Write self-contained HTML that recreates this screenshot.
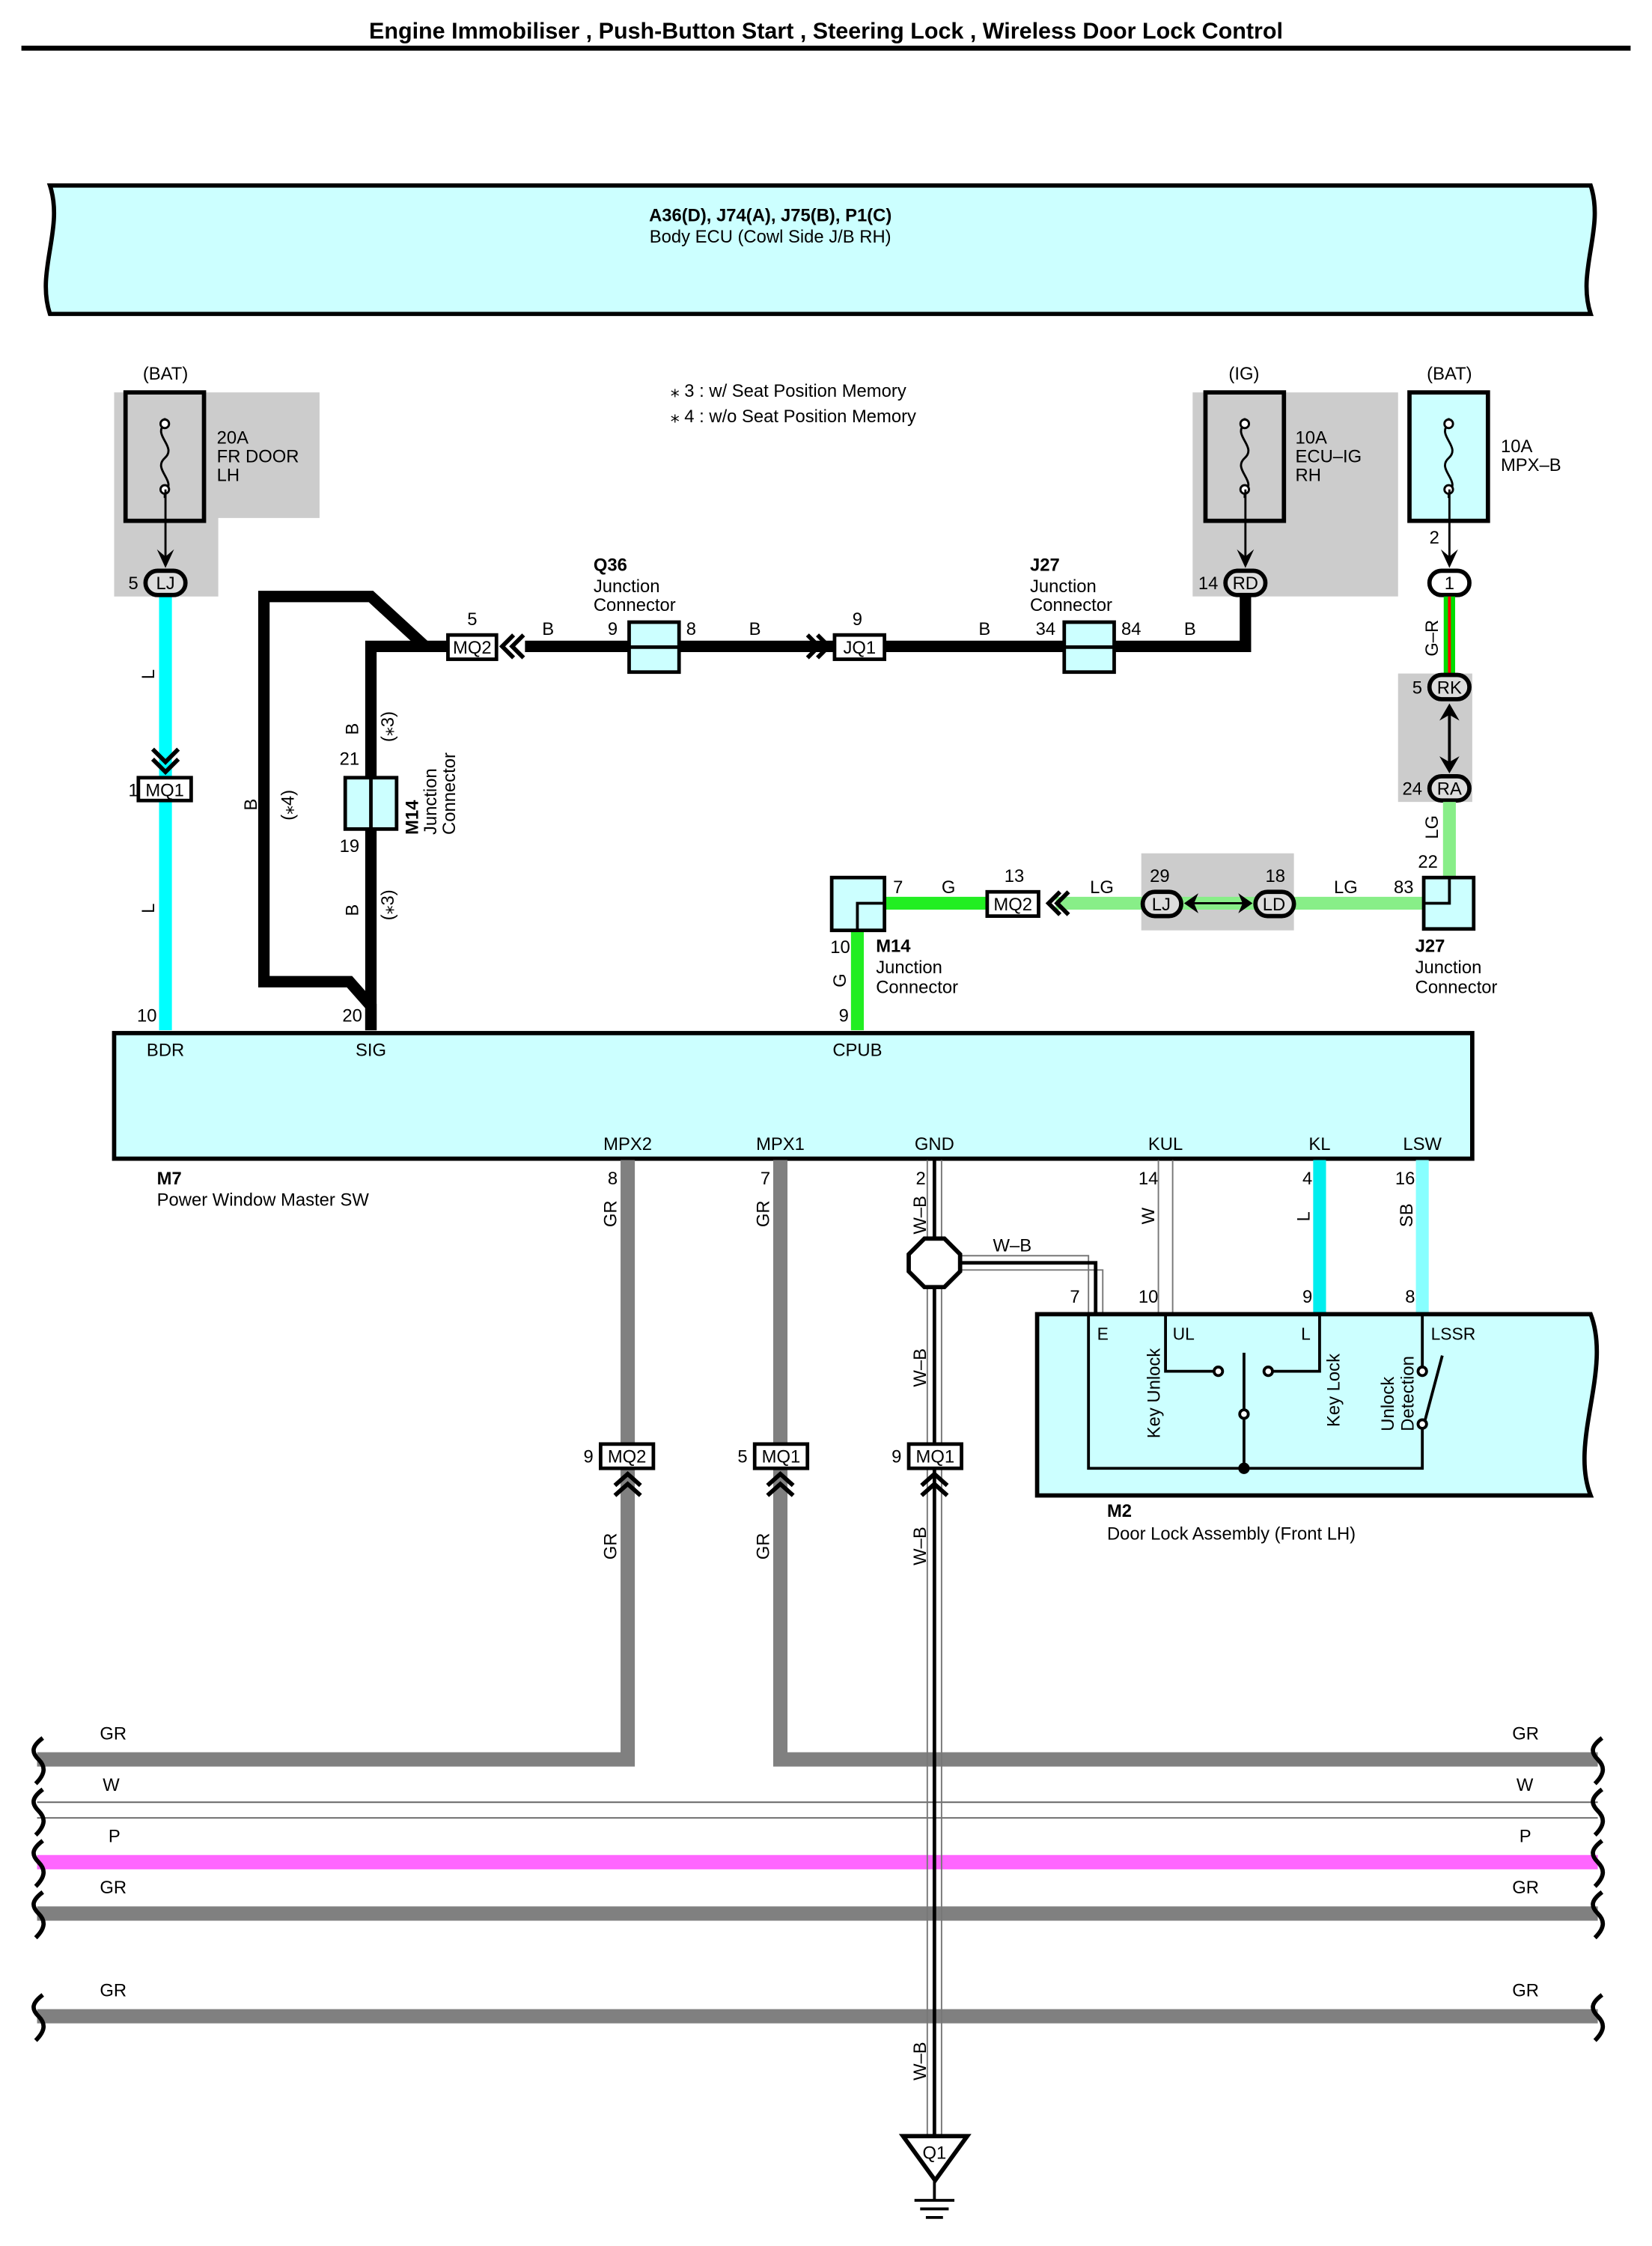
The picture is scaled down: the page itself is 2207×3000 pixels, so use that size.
<!DOCTYPE html>
<html><head><meta charset="utf-8"><style>
html,body{margin:0;padding:0;background:#fff}
svg{display:block}
text{font-family:"Liberation Sans Narrow","Liberation Sans",sans-serif;font-size:12.5px;fill:#000}
.b{font-weight:bold}
</style></head><body>
<svg width="2207" height="3000" viewBox="0 0 1158 1574" preserveAspectRatio="none" xmlns="http://www.w3.org/2000/svg">
<defs>
<g id="fuse"><rect x="0" y="0" width="55" height="90" fill="none" stroke="#000" stroke-width="3"/>
<path d="M27.5 18 v4 c-9 8 9 16 0 24 c-9 8 9 16 0 24 v4" fill="none" stroke="#000" stroke-width="1.5"/>
<circle cx="27.5" cy="22" r="3" fill="#fff" stroke="#000" stroke-width="1.5"/><circle cx="27.5" cy="68" r="3" fill="#fff" stroke="#000" stroke-width="1.5"/></g>
</defs>
<text x="579" y="27" text-anchor="middle" class="b" style="font-size:16px">Engine Immobiliser , Push-Button Start , Steering Lock , Wireless Door Lock Control</text>
<rect x="15" y="32" width="1128" height="3.5" fill="#000"/>

<!-- Body ECU -->
<path d="M35 130 H1115 C1125 160 1105 190 1115 220 H35 C25 190 45 160 35 130 Z" fill="#ccffff" stroke="#000" stroke-width="3"/>
<text x="540" y="155" text-anchor="middle" class="b">A36(D), J74(A), J75(B), P1(C)</text>
<text x="540" y="170" text-anchor="middle">Body ECU (Cowl Side J/B RH)</text>

<!-- gray backgrounds -->
<path d="M80 275 H224 V363 H153 V418 H80 Z" fill="#cccccc"/>
<rect x="836" y="275" width="144" height="143" fill="#cccccc"/>
<rect x="980" y="472" width="52" height="90" fill="#cccccc"/>
<rect x="800" y="598" width="107" height="54" fill="#cccccc"/>

<!-- fuses -->
<text x="116" y="266" text-anchor="middle">(BAT)</text>
<use href="#fuse" x="88" y="275"/>
<text x="152" y="311">20A</text><text x="152" y="324">FR DOOR</text><text x="152" y="337">LH</text>
<text x="872" y="266" text-anchor="middle">(IG)</text>
<use href="#fuse" x="845" y="275"/>
<text x="908" y="311">10A</text><text x="908" y="324">ECU–IG</text><text x="908" y="337">RH</text>
<text x="1016" y="266" text-anchor="middle">(BAT)</text>
<rect x="988" y="275" width="55" height="90" fill="#ccffff"/>
<use href="#fuse" x="988" y="275"/>
<text x="1052" y="317">10A</text><text x="1052" y="330">MPX–B</text>
<text x="470" y="278">⁎ 3 : w/ Seat Position Memory</text>
<text x="470" y="296">⁎ 4 : w/o Seat Position Memory</text>

<!-- fuse arrows -->
<g stroke="#000" stroke-width="1.5"><line x1="116" y1="343" x2="116" y2="395"/><line x1="873" y1="343" x2="873" y2="395"/><line x1="1016" y1="343" x2="1016" y2="395"/></g>
<g fill="#000"><path d="M110 385 L116 398 L122 385 L116 390Z"/><path d="M867 385 L873 398 L879 385 L873 390Z"/><path d="M1010 385 L1016 398 L1022 385 L1016 390Z"/></g>

<!-- L cyan wire -->
<line x1="116" y1="418" x2="116" y2="722" stroke="#00ffff" stroke-width="9"/>
<path d="M107 525 L116 534 L125 525 M107 532 L116 541 L125 532" fill="none" stroke="#000" stroke-width="3"/>
<rect x="97" y="545" width="37" height="16" fill="#fff" stroke="#000" stroke-width="2.5"/><text x="115.5" y="558" text-anchor="middle">MQ1</text>
<text x="90" y="558">1</text>
<text transform="translate(108,476) rotate(-90)">L</text>
<text transform="translate(108,640) rotate(-90)">L</text>

<!-- black B wiring -->
<g fill="none" stroke="#000" stroke-width="8" stroke-linejoin="miter">
<path d="M298 453 L260 418 H185 V688 H245 L260 705 V722"/>
<path d="M260 722 V453 H314"/>
<path d="M368 453 H873 V418"/>
</g>
<rect x="242" y="545" width="36" height="36" fill="#ccffff" stroke="#000" stroke-width="2.5"/><line x1="260" y1="545" x2="260" y2="581" stroke="#000" stroke-width="2.5"/>
<text x="238" y="536">21</text><text x="238" y="597">19</text>
<text transform="translate(293,585) rotate(-90)" class="b">M14</text>
<text transform="translate(306,585) rotate(-90)">Junction</text>
<text transform="translate(319,585) rotate(-90)">Connector</text>
<text transform="translate(251,515) rotate(-90)">B</text><text transform="translate(276,520) rotate(-90)">(⁎3)</text>
<text transform="translate(251,642) rotate(-90)">B</text><text transform="translate(276,645) rotate(-90)">(⁎3)</text>
<text transform="translate(180,568) rotate(-90)">B</text><text transform="translate(206,575) rotate(-90)">(⁎4)</text>

<rect x="314" y="445" width="34" height="17" fill="#fff" stroke="#000" stroke-width="2.5"/><text x="331" y="458" text-anchor="middle">MQ2</text>
<text x="331" y="438" text-anchor="middle">5</text>
<path d="M360 445 L352 453 L360 461 M367 445 L359 453 L367 461" fill="none" stroke="#000" stroke-width="3"/>
<text x="380" y="445">B</text>
<rect x="441" y="436" width="35" height="35" fill="#ccffff" stroke="#000" stroke-width="2.5"/><line x1="441" y1="453.5" x2="476" y2="453.5" stroke="#000" stroke-width="2.5"/>
<text x="426" y="445">9</text><text x="481" y="445">8</text>
<text x="416" y="400" class="b">Q36</text><text x="416" y="415">Junction</text><text x="416" y="428">Connector</text>
<text x="525" y="445">B</text>
<path d="M566 445 L574 453 L566 461 M573 445 L581 453 L573 461" fill="none" stroke="#000" stroke-width="3"/>
<rect x="585" y="445" width="35" height="17" fill="#fff" stroke="#000" stroke-width="2.5"/><text x="602.5" y="458" text-anchor="middle">JQ1</text>
<text x="601" y="438" text-anchor="middle">9</text>
<text x="686" y="445">B</text>
<rect x="746" y="436" width="35" height="35" fill="#ccffff" stroke="#000" stroke-width="2.5"/><line x1="746" y1="453.5" x2="781" y2="453.5" stroke="#000" stroke-width="2.5"/>
<text x="726" y="445">34</text><text x="786" y="445">84</text>
<text x="722" y="400" class="b">J27</text><text x="722" y="415">Junction</text><text x="722" y="428">Connector</text>
<text x="830" y="445">B</text>

<!-- connectors LJ RD 1 -->
<g stroke="#000" stroke-width="3" fill="#ddd">
<rect x="102" y="400" width="28" height="17" rx="8.5"/><rect x="859" y="400" width="28" height="17" rx="8.5"/>
<rect x="1002" y="400" width="28" height="17" rx="8.5" fill="#fff"/>
</g>
<text x="116" y="413" text-anchor="middle">LJ</text><text x="873" y="413" text-anchor="middle">RD</text><text x="1016" y="413" text-anchor="middle">1</text>
<text x="90" y="413">5</text><text x="840" y="413">14</text><text x="1002" y="381">2</text>

<!-- G-R -->
<line x1="1016" y1="418" x2="1016" y2="472" stroke="#00dd00" stroke-width="8"/>
<line x1="1016" y1="418" x2="1016" y2="472" stroke="#ff0000" stroke-width="2"/>
<text transform="translate(1008,460) rotate(-90)">G–R</text>
<rect x="1002" y="473" width="28" height="17" rx="8.5" fill="#ddd" stroke="#000" stroke-width="3"/><text x="1016" y="486" text-anchor="middle">RK</text>
<text x="990" y="486">5</text>
<line x1="1016" y1="496" x2="1016" y2="538" stroke="#000" stroke-width="2"/>
<path d="M1009 505 L1016 493 L1023 505 L1016 501Z M1009 530 L1016 542 L1023 530 L1016 534Z" fill="#000"/>
<rect x="1002" y="544" width="28" height="17" rx="8.5" fill="#ddd" stroke="#000" stroke-width="3"/><text x="1016" y="557" text-anchor="middle">RA</text>
<text x="983" y="557">24</text>

<!-- LG/G wires -->
<line x1="1016" y1="562" x2="1016" y2="616" stroke="#88ee88" stroke-width="9"/>
<text transform="translate(1008,588) rotate(-90)">LG</text><text x="994" y="608">22</text>
<line x1="740" y1="633" x2="998" y2="633" stroke="#88ee88" stroke-width="9"/>
<line x1="620" y1="633" x2="692" y2="633" stroke="#22ee22" stroke-width="9"/>
<line x1="601" y1="652" x2="601" y2="722" stroke="#22ee22" stroke-width="9"/>
<rect x="998" y="615" width="35" height="36" fill="#ccffff" stroke="#000" stroke-width="2.5"/><path d="M998 633 H1016 V615" fill="none" stroke="#000" stroke-width="2"/>
<text x="977" y="626">83</text>
<text x="992" y="667" class="b">J27</text><text x="992" y="682">Junction</text><text x="992" y="696">Connector</text>
<text x="935" y="626">LG</text>
<rect x="801" y="625" width="27" height="17" rx="8.5" fill="#ddd" stroke="#000" stroke-width="3"/><text x="814" y="638" text-anchor="middle">LJ</text>
<rect x="880" y="625" width="27" height="17" rx="8.5" fill="#ddd" stroke="#000" stroke-width="3"/><text x="893" y="638" text-anchor="middle">LD</text>
<text x="806" y="618">29</text><text x="887" y="618">18</text>
<line x1="832" y1="633" x2="876" y2="633" stroke="#000" stroke-width="1.5"/>
<path d="M830 633 L840 626 L837 633 L840 640Z M878 633 L868 626 L871 633 L868 640Z" fill="#000"/>
<text x="764" y="626">LG</text>
<path d="M743 625 L735 633 L743 641 M749 625 L741 633 L749 641" fill="none" stroke="#000" stroke-width="3"/>
<rect x="692" y="625" width="36" height="17" fill="#fff" stroke="#000" stroke-width="2.5"/><text x="710" y="638" text-anchor="middle">MQ2</text>
<text x="704" y="618">13</text>
<text x="660" y="626">G</text>
<rect x="583" y="615" width="37" height="37" fill="#ccffff" stroke="#000" stroke-width="2.5"/><path d="M601 652 V633 H620" fill="none" stroke="#000" stroke-width="2"/>
<text x="626" y="626">7</text><text x="582" y="668">10</text>
<text x="614" y="667" class="b">M14</text><text x="614" y="682">Junction</text><text x="614" y="696">Connector</text>
<text transform="translate(593,692) rotate(-90)">G</text>

<!-- Power window master SW -->
<rect x="80" y="724" width="952" height="88" fill="#ccffff" stroke="#000" stroke-width="3"/>
<text x="96" y="716">10</text><text x="240" y="716">20</text><text x="588" y="716">9</text>
<text x="116" y="740" text-anchor="middle">BDR</text><text x="260" y="740" text-anchor="middle">SIG</text><text x="601" y="740" text-anchor="middle">CPUB</text>
<text x="440" y="806" text-anchor="middle">MPX2</text><text x="547" y="806" text-anchor="middle">MPX1</text><text x="655" y="806" text-anchor="middle">GND</text>
<text x="817" y="806" text-anchor="middle">KUL</text><text x="925" y="806" text-anchor="middle">KL</text><text x="997" y="806" text-anchor="middle">LSW</text>
<text x="110" y="830" class="b">M7</text><text x="110" y="845">Power Window Master SW</text>

<!-- buses -->
<g stroke-width="10" fill="none" stroke-linecap="butt">
<path d="M26 1233 H440 V813" stroke="#808080"/>
<path d="M1120 1233 H547 V813" stroke="#808080"/>
<line x1="26" y1="1305" x2="1120" y2="1305" stroke="#ff66ff"/>
<line x1="26" y1="1341" x2="1120" y2="1341" stroke="#808080"/>
<line x1="26" y1="1413" x2="1120" y2="1413" stroke="#808080"/>
</g>
<g stroke="#666" stroke-width="1"><line x1="26" y1="1263" x2="1120" y2="1263"/><line x1="26" y1="1274" x2="1120" y2="1274"/></g>
<g fill="none" stroke="#000" stroke-width="3">
<path d="M30 1218 c-8 6 -8 10 -3 15 c5 5 5 10 -2 17 M30 1254 c-8 6 -8 10 -3 15 c5 5 5 10 -2 17 M30 1290 c-8 6 -8 10 -3 15 c5 5 5 10 -2 17 M30 1326 c-8 6 -8 10 -3 15 c5 5 5 10 -2 17 M30 1398 c-8 6 -8 10 -3 15 c5 5 5 10 -2 17"/>
<path d="M1123 1218 c-8 6 -8 10 -3 15 c5 5 5 10 -2 17 M1123 1254 c-8 6 -8 10 -3 15 c5 5 5 10 -2 17 M1123 1290 c-8 6 -8 10 -3 15 c5 5 5 10 -2 17 M1123 1326 c-8 6 -8 10 -3 15 c5 5 5 10 -2 17 M1123 1398 c-8 6 -8 10 -3 15 c5 5 5 10 -2 17"/>
</g>
<g><text x="70" y="1219">GR</text><text x="72" y="1255">W</text><text x="76" y="1291">P</text><text x="70" y="1327">GR</text><text x="70" y="1399">GR</text>
<text x="1060" y="1219">GR</text><text x="1063" y="1255">W</text><text x="1065" y="1291">P</text><text x="1060" y="1327">GR</text><text x="1060" y="1399">GR</text></g>
<text x="426" y="830">8</text><text x="533" y="830">7</text><text x="642" y="830">2</text>
<text transform="translate(432,860) rotate(-90)">GR</text><text transform="translate(539,860) rotate(-90)">GR</text>
<text transform="translate(432,1093) rotate(-90)">GR</text><text transform="translate(539,1093) rotate(-90)">GR</text>
<text transform="translate(649,865) rotate(-90)">W–B</text><text transform="translate(649,972) rotate(-90)">W–B</text>
<text transform="translate(649,1097) rotate(-90)">W–B</text><text transform="translate(649,1458) rotate(-90)">W–B</text>

<!-- W-B ground wire -->
<g fill="none">
<path d="M650 813 V1497 M660 813 V1497" stroke="#777" stroke-width="1"/>
<path d="M655 813 V1497" stroke="#000" stroke-width="2.5"/>
<path d="M673 880 H763 V920 M673 890 H773 V920" stroke="#777" stroke-width="1"/>
<path d="M673 885 H768 V922" stroke="#000" stroke-width="2.5"/>
</g>
<path d="M648 868 H662 L673 879 V891 L662 902 H648 L637 891 V879 Z" fill="#fff" stroke="#000" stroke-width="3"/>
<text x="696" y="877">W–B</text>
<text x="750" y="913">7</text>

<!-- KUL W, KL, LSW -->
<g stroke="#777" stroke-width="1"><line x1="812" y1="813" x2="812" y2="920"/><line x1="822" y1="813" x2="822" y2="920"/></g>
<line x1="925" y1="813" x2="925" y2="920" stroke="#00eeee" stroke-width="9"/>
<line x1="997" y1="813" x2="997" y2="920" stroke="#88ffff" stroke-width="9"/>
<text x="798" y="830">14</text><text x="913" y="830">4</text><text x="978" y="830">16</text>
<text transform="translate(809,858) rotate(-90)">W</text><text transform="translate(918,856) rotate(-90)">L</text><text transform="translate(990,860) rotate(-90)">SB</text>
<text x="798" y="913">10</text><text x="913" y="913">9</text><text x="985" y="913">8</text>

<!-- M2 Door lock -->
<path d="M727 921 H1115 C1130 960 1100 1010 1115 1048 H727 Z" fill="#ccffff" stroke="#000" stroke-width="3"/>
<g fill="none" stroke="#000" stroke-width="2">
<path d="M763 922 V1029 H997 V996"/>
<path d="M817 922 V961 H853"/>
<path d="M925 922 V961 H890"/>
<path d="M997 922 V958"/>
<line x1="872" y1="948" x2="872" y2="1029"/>
<line x1="1011" y1="950" x2="999" y2="995"/>
</g>
<g fill="#fff" stroke="#000" stroke-width="2"><circle cx="854" cy="961" r="3"/><circle cx="889" cy="961" r="3"/><circle cx="872" cy="991" r="3"/><circle cx="997" cy="961" r="3"/><circle cx="997" cy="998" r="3"/></g>
<circle cx="872" cy="1029" r="4" fill="#000"/>
<text x="769" y="939" style="font-family:'Liberation Sans',sans-serif;font-size:12px">E</text>
<text x="822" y="939" style="font-family:'Liberation Sans',sans-serif;font-size:12px">UL</text>
<text x="912" y="939" style="font-family:'Liberation Sans',sans-serif;font-size:12px">L</text>
<text x="1003" y="939" style="font-family:'Liberation Sans',sans-serif;font-size:12px">LSSR</text>
<g style="font-family:'Liberation Sans',sans-serif;font-size:12px">
<text transform="translate(813,1008) rotate(-90)">Key Unlock</text>
<text transform="translate(939,1000) rotate(-90)">Key Lock</text>
<text transform="translate(977,1003) rotate(-90)">Unlock</text>
<text transform="translate(991,1003) rotate(-90)">Detection</text>
</g>
<text x="776" y="1063" class="b">M2</text><text x="776" y="1079">Door Lock Assembly (Front LH)</text>

<!-- MQ connectors bottom -->
<g fill="#fff" stroke="#000" stroke-width="2.5">
<rect x="421" y="1012" width="37" height="17"/><rect x="529" y="1012" width="37" height="17"/><rect x="637" y="1012" width="37" height="17"/>
</g>
<text x="439.5" y="1025" text-anchor="middle">MQ2</text><text x="547.5" y="1025" text-anchor="middle">MQ1</text><text x="655.5" y="1025" text-anchor="middle">MQ1</text>
<text x="409" y="1025">9</text><text x="517" y="1025">5</text><text x="625" y="1025">9</text>
<path d="M431 1041 L440 1033 L449 1041 M431 1048 L440 1040 L449 1048 M538 1041 L547 1033 L556 1041 M538 1048 L547 1040 L556 1048 M646 1041 L655 1033 L664 1041 M646 1048 L655 1040 L664 1048" fill="none" stroke="#000" stroke-width="3"/>

<!-- ground -->
<path d="M633 1497 H678 L655.5 1528 Z" fill="#fff" stroke="#000" stroke-width="3"/>
<text x="655" y="1513" text-anchor="middle">Q1</text>
<g stroke="#000" stroke-width="2"><line x1="655" y1="1528" x2="655" y2="1542"/><line x1="641" y1="1542" x2="669" y2="1542"/><line x1="645" y1="1548" x2="665" y2="1548"/><line x1="649" y1="1554" x2="661" y2="1554"/></g>
</svg>
</body></html>
